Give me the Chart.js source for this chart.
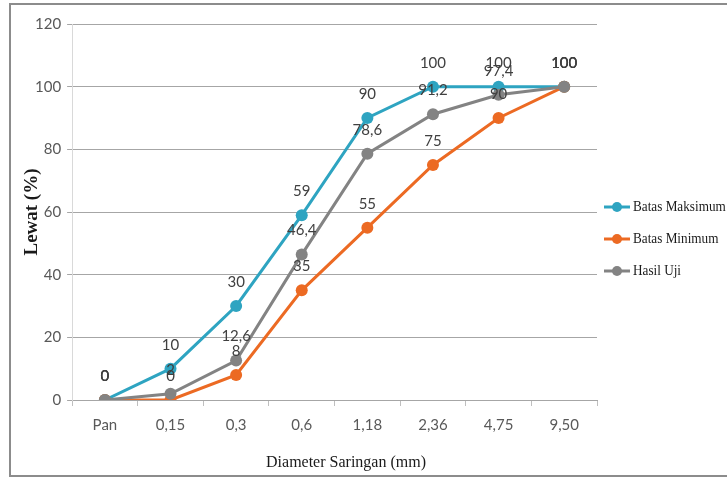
<!DOCTYPE html>
<html>
<head>
<meta charset="utf-8">
<script src="https://cdn.jsdelivr.net/npm/chart.js@4.4.1/dist/chart.umd.min.js"></script>
<style>
  html, body { margin: 0; padding: 0; background: #fff; }
  canvas { display: block; }
</style>
</head>
<body>
<canvas id="grafik" width="727" height="479"></canvas>
<script>
// data
const saringan = ["Pan", "0,15", "0,3", "0,6", "1,18", "2,36", "4,75", "9,50"];
const batasMaksimum = [0, 10, 30, 59, 90, 100, 100, 100];
const batasMinimum = [0, 0, 8, 35, 55, 75, 90, 100];
const hasilUji = [0, 2, 12.6, 46.4, 78.6, 91.2, 97.4, 100];

const BIRU = "#2ea4c1";
const ORANYE = "#ec6a23";
const ABU = "#838383";
const FONT_ANGKA = "Lato, 'DejaVu Sans Condensed', sans-serif";
const FONT_SERIF = "'Liberation Serif', 'DejaVu Serif', serif";

// label angka di atas titik
const labelData = {
  id: "labelData",
  afterDatasetsDraw(chart) {
    const ctx = chart.ctx;
    ctx.save();
    ctx.font = "15px " + FONT_ANGKA;
    ctx.fillStyle = "#404040";
    ctx.textAlign = "center";
    ctx.textBaseline = "middle";
    chart.data.datasets.forEach((ds, i) => {
      const meta = chart.getDatasetMeta(i);
      meta.data.forEach((titik, j) => {
        const teks = String(ds.data[j]).replace(".", ",");
        ctx.fillText(teks, titik.x, titik.y - 24);
      });
    });
    ctx.restore();
  }
};

// judul kedua sumbu, digambar sendiri supaya posisinya sama dengan aslinya
const judulSumbu = {
  id: "judulSumbu",
  afterDraw(chart) {
    const ctx = chart.ctx;
    const area = chart.chartArea;
    ctx.save();
    ctx.fillStyle = "#1a1a1a";
    ctx.textAlign = "center";
    ctx.textBaseline = "middle";
    ctx.font = "16px " + FONT_SERIF;
    ctx.fillText("Diameter Saringan (mm)", 346, 463);
    ctx.translate(32, (area.top + area.bottom) / 2);
    ctx.rotate(-Math.PI / 2);
    ctx.font = "bold 19px " + FONT_SERIF;
    ctx.fillText("Lewat (%)", 0, 0);
    ctx.restore();
  }
};

// legenda di kanan: garis + titik
const legendaKanan = {
  id: "legendaKanan",
  afterDraw(chart) {
    const ctx = chart.ctx;
    const x0 = chart.chartArea.right + 7;
    let y = 207;
    ctx.save();
    ctx.textBaseline = "middle";
    ctx.textAlign = "left";
    chart.data.datasets.forEach(ds => {
      ctx.strokeStyle = ds.borderColor;
      ctx.fillStyle = ds.borderColor;
      ctx.lineWidth = 3;
      ctx.beginPath(); ctx.moveTo(x0, y); ctx.lineTo(x0 + 26, y); ctx.stroke();
      ctx.beginPath(); ctx.arc(x0 + 13, y, 5, 0, Math.PI * 2); ctx.fill();
      // teks agak dipadatkan seperti aslinya
      ctx.save();
      ctx.translate(x0 + 29, y);
      ctx.scale(0.88, 1);
      ctx.font = "15px " + FONT_SERIF;
      ctx.fillStyle = "#1a1a1a";
      ctx.fillText(ds.label, 0, 0);
      ctx.restore();
      y += 32;
    });
    ctx.restore();
  }
};

// bingkai luar
const bingkai = {
  id: "bingkai",
  beforeDraw(chart) {
    const ctx = chart.ctx;
    ctx.save();
    ctx.strokeStyle = "#8c8c8c";
    ctx.lineWidth = 2;
    ctx.strokeRect(10, 4, 740, 472);
    ctx.restore();
  }
};

function seri(label, data, warna, urutan) {
  return {
    label: label,
    data: data,
    borderColor: warna,
    backgroundColor: warna,
    borderWidth: 3,
    pointRadius: 6,
    pointHoverRadius: 6,
    pointBorderWidth: 0,
    tension: 0,
    order: urutan
  };
}

new Chart(document.getElementById("grafik"), {
  type: "line",
  data: {
    labels: saringan,
    datasets: [
      seri("Batas Maksimum", batasMaksimum, BIRU, 2),
      seri("Batas Minimum", batasMinimum, ORANYE, 1),
      seri("Hasil Uji", hasilUji, ABU, 0)
    ]
  },
  options: {
    responsive: false,
    animation: false,
    layout: { padding: { left: 29, top: 24, right: 130, bottom: 35 } },
    plugins: {
      tooltip: { enabled: false },
      legend: { display: false }
    },
    scales: {
      x: {
        offset: true,
        grid: { offset: true, drawOnChartArea: false, color: "#bfbfbf", tickLength: 6 },
        border: { color: "#a6a6a6" },
        ticks: { color: "#595959", font: { family: FONT_ANGKA, size: 15 }, padding: 10 }
      },
      y: {
        min: 0,
        max: 120,
        ticks: { stepSize: 20, color: "#595959", font: { family: FONT_ANGKA, size: 15 }, padding: 6 },
        grid: { color: "#a6a6a6", tickLength: 5 },
        border: { color: "#d9d9d9" }
      }
    }
  },
  plugins: [bingkai, labelData, judulSumbu, legendaKanan]
});
</script>
</body>
</html>
